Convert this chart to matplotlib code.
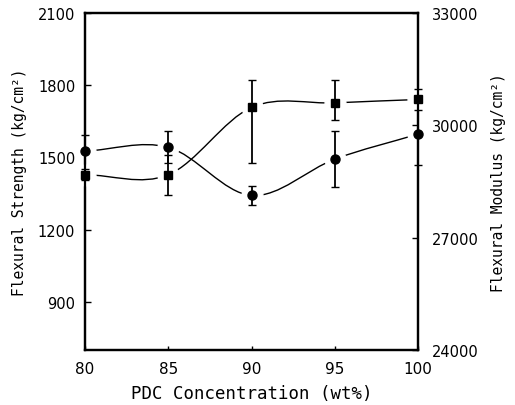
import matplotlib
matplotlib.use('Agg')
import matplotlib.pyplot as plt
from matplotlib.path import Path
from matplotlib.patches import PathPatch
import numpy as np

# data
conc = [80, 85, 90, 95, 100]
strength = [1526, 1542, 1342, 1493, 1597]
strength_err = [66, 66, 39, 115, 128]
modulus = [28680, 28680, 30480, 30600, 30690]
modulus_err_lo = [150, 540, 1490, 470, 270]
modulus_err_hi = [150, 540, 730, 610, 270]

mono = 'DejaVu Sans Mono'
plt.rcParams['font.family'] = 'DejaVu Sans'


def smooth_path(x, y):
    # Catmull-Rom curve through the points, drawn as cubic Bezier segments
    x = np.asarray(x, float)
    y = np.asarray(y, float)
    n = len(x)
    mx = np.zeros(n)
    my = np.zeros(n)
    for i in range(n):
        a = max(i - 1, 0)
        b = min(i + 1, n - 1)
        k = 2.0 if 0 < i < n - 1 else 1.0
        mx[i] = (x[b] - x[a]) / k
        my[i] = (y[b] - y[a]) / k
    verts = [(x[0], y[0])]
    codes = [Path.MOVETO]
    for i in range(n - 1):
        verts += [(x[i] + mx[i] / 3, y[i] + my[i] / 3),
                  (x[i + 1] - mx[i + 1] / 3, y[i + 1] - my[i + 1] / 3),
                  (x[i + 1], y[i + 1])]
        codes += [Path.CURVE4] * 3
    return Path(verts, codes)


def draw_series(ax, y, err, marker):
    ax.add_patch(PathPatch(smooth_path(conc, y), facecolor='none',
                           edgecolor='black', lw=1.0, zorder=2))
    # white halo leaves a gap between curve and marker
    ax.plot(conc, y, ls='none', marker='o', ms=15, color='white',
            zorder=3, clip_on=False)
    ax.errorbar(conc, y, yerr=err, fmt='none', ecolor='black',
                elinewidth=1.3, capsize=3, capthick=1.0, zorder=4,
                clip_on=False)
    ax.plot(conc, y, ls='none', marker=marker, ms=6.5 if marker == 'o' else 6,
            color='black', zorder=5, clip_on=False)


fig = plt.figure(figsize=(5.15, 4.06), dpi=100)
ax = fig.add_axes([0.165, 0.1355, 0.647, 0.83])
ax2 = ax.twinx()

draw_series(ax, strength, strength_err, 'o')
draw_series(ax2, modulus, [modulus_err_lo, modulus_err_hi], 's')

ax.set_xlim(80, 100)
ax.set_ylim(700, 2100)
ax.set_xticks(conc)
ax.set_yticks([900, 1200, 1500, 1800, 2100])
ax2.set_ylim(24000, 33000)
ax2.set_yticks([24000, 27000, 30000, 33000])

ax.tick_params(axis='both', direction='in', length=4, width=1,
               labelsize=10.5)
ax.tick_params(axis='y', pad=7)
ax.tick_params(axis='x', pad=8, length=3, labelsize=11)
ax2.tick_params(axis='y', direction='in', length=4, width=1,
                labelsize=10.5, pad=10)

for a in (ax, ax2):
    for s in a.spines.values():
        s.set_linewidth(1.6)
        s.set_zorder(10)

ax.set_xlabel('PDC Concentration (wt%)', family=mono, fontsize=12.5,
              labelpad=6)
ax.set_ylabel('Flexural Strength (kg/cm²)', family=mono, fontsize=10.5,
              labelpad=8)
ax2.set_ylabel('Flexural Modulus (kg/cm²)', family=mono, fontsize=10.5,
               labelpad=9)

plt.savefig('out.png', dpi=100)
plt.close()
